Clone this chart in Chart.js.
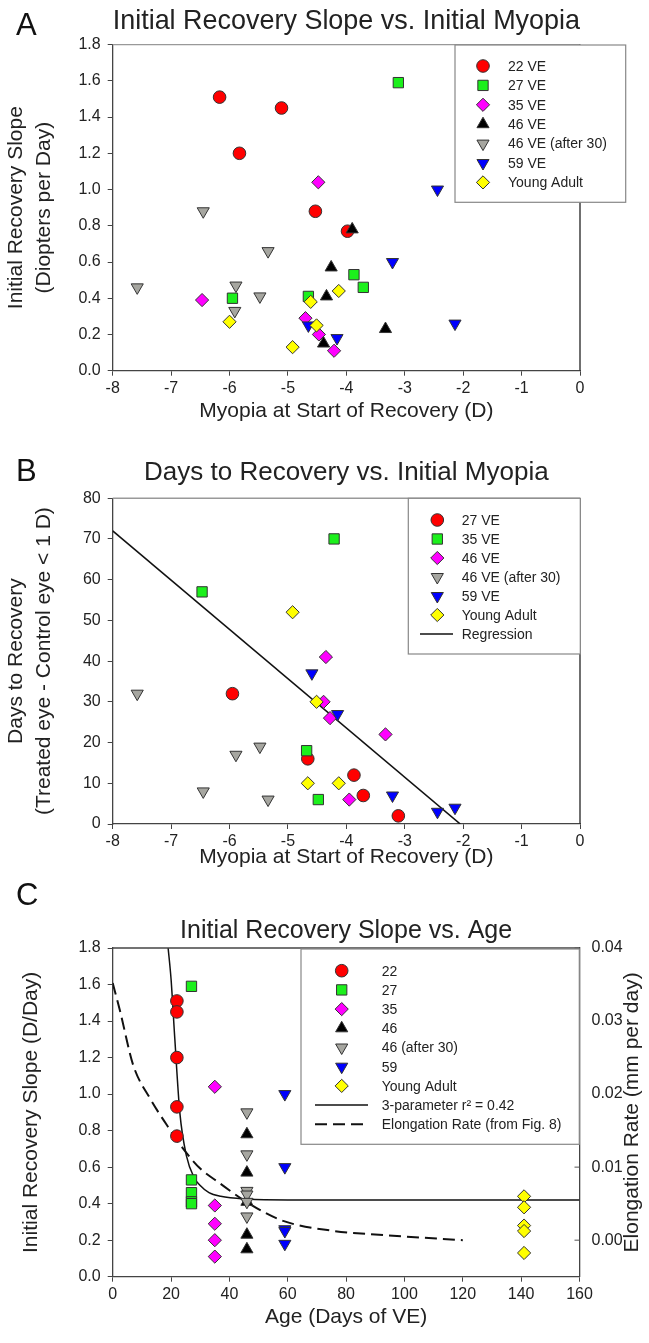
<!DOCTYPE html>
<html>
<head>
<meta charset="utf-8">
<script src="https://cdn.jsdelivr.net/npm/chart.js"></script>
<style>
  body { margin: 0; background: #fff; width: 649px; height: 1343px; position: relative; overflow: hidden; font-family: "Liberation Sans", Arial, sans-serif; }
  canvas { position: absolute; left: 0; }
  .tag { position: absolute; left: 16px; font-size: 31px; color: #111; line-height: 1; }
</style>
</head>
<body>
<canvas id="chartA" width="649" height="440" style="top:0"></canvas>
<canvas id="chartB" width="649" height="440" style="top:440px"></canvas>
<canvas id="chartC" width="649" height="463" style="top:880px"></canvas>
<div class="tag" style="top:9px">A</div>
<div class="tag" style="top:455px">B</div>
<div class="tag" style="top:879px">C</div>
<script>
// ---- Panel A: initial recovery slope (D/day) vs myopia at start of recovery (D)
const groupsA = ['22 VE', '27 VE', '35 VE', '46 VE', '46 VE (after 30)', '59 VE', 'Young Adult'];
const myopiaA22 = [-6.17, -5.11, -5.83, -4.53, -3.98];
const slopeA22 = [1.51, 1.45, 1.20, 0.88, 0.77];
const myopiaA27 = [-3.11, -5.95, -4.65, -3.87, -3.71];
const slopeA27 = [1.59, 0.40, 0.41, 0.53, 0.46];
const myopiaA35 = [-4.48, -6.47, -4.70, -4.47, -4.21];
const slopeA35 = [1.04, 0.39, 0.29, 0.20, 0.11];
const myopiaA46 = [-3.90, -4.26, -4.34, -3.33, -4.39];
const slopeA46 = [0.78, 0.57, 0.41, 0.23, 0.15];
const myopiaA46b = [-7.58, -6.45, -5.34, -5.89, -5.48, -5.91];
const slopeA46b = [0.46, 0.88, 0.66, 0.47, 0.41, 0.33];
const myopiaA59 = [-2.44, -3.21, -4.16, -2.14, -4.65];
const slopeA59 = [1.00, 0.60, 0.18, 0.26, 0.25];
const myopiaAYA = [-4.13, -4.61, -6.00, -4.51, -4.92];
const slopeAYA = [0.44, 0.38, 0.27, 0.25, 0.13];

// ---- Panel B: days to recovery vs myopia at start of recovery (D)
const groupsB = ['27 VE', '35 VE', '46 VE', '46 VE (after 30)', '59 VE', 'Young Adult'];
const myopiaB27 = [-5.95, -4.66, -3.87, -3.71, -3.11];
const daysB27 = [32, 16, 12, 7, 2];
const myopiaB35 = [-4.21, -6.47, -4.68, -4.48];
const daysB35 = [70, 57, 18, 6];
const myopiaB46 = [-4.35, -4.39, -4.28, -3.33, -3.95];
const daysB46 = [41, 30, 26, 22, 6];
const myopiaB46b = [-7.58, -5.89, -5.48, -6.45, -5.34];
const daysB46b = [32, 17, 19, 8, 6];
const myopiaB59 = [-4.59, -4.15, -3.21, -2.44, -2.14];
const daysB59 = [37, 27, 7, 3, 4];
const myopiaBYA = [-4.92, -4.51, -4.66, -4.13];
const daysBYA = [52, 30, 10, 10];
const regMyopiaB = [-8, -2.05];
const regDaysB = [72, 0];

// ---- Panel C: initial recovery slope vs age (days of VE)
const groupsC = ['22', '27', '35', '46', '46 (after 30)', '59', 'Young Adult'];
const ageC = [22, 27, 35, 46, 46, 59, 141];
const slopeC22 = [1.51, 1.45, 1.20, 0.93, 0.77];
const slopeC27 = [1.59, 0.53, 0.46, 0.41, 0.40];
const slopeC35 = [1.04, 0.39, 0.29, 0.20, 0.11];
const slopeC46 = [0.78, 0.57, 0.41, 0.23, 0.15];
const slopeC46b = [0.90, 0.67, 0.47, 0.45, 0.41, 0.33];
const slopeC59 = [1.00, 0.60, 0.26, 0.25, 0.18];
const slopeCYA = [0.44, 0.38, 0.28, 0.25, 0.13];
const fitAgeC = [19, 20, 21.3, 23, 25.3, 28, 30, 33, 37, 46, 60, 160];
const fitSlopeC = [1.80, 1.63, 1.30, 0.90, 0.66, 0.54, 0.50, 0.46, 0.44, 0.425, 0.42, 0.42];
const elongAgeC = [0, 2.5, 7, 12.8, 18.5, 24, 30, 36, 46, 58, 75, 93, 120];
const elongRateC = [0.0352, 0.0314, 0.0240, 0.0194, 0.0158, 0.0126, 0.0098, 0.0080, 0.0052, 0.0027, 0.0013, 0.0007, 0.0000];

const FONT = '"Liberation Sans", Arial, sans-serif';
const INK = '#222';
const AXIS = '#444';

// marker look for each group, in the order of panel A / C
const markers = [
  { pointStyle: 'circle', pointRadius: 6.3, rotation: 0, backgroundColor: '#ff0000' },
  { pointStyle: 'rect', pointRadius: 7.3, rotation: 0, backgroundColor: '#1cf01c' },
  { pointStyle: 'rectRot', pointRadius: 6.6, rotation: 0, backgroundColor: '#ff00ff' },
  { pointStyle: 'triangle', pointRadius: 7, rotation: 0, backgroundColor: '#000000' },
  { pointStyle: 'triangle', pointRadius: 7, rotation: 180, backgroundColor: '#a6a6a0' },
  { pointStyle: 'triangle', pointRadius: 7, rotation: 180, backgroundColor: '#0000ff' },
  { pointStyle: 'rectRot', pointRadius: 6.6, rotation: 0, backgroundColor: '#ffff00' },
];

function pts(xs, ys) {
  return ys.map((y, i) => ({ x: Array.isArray(xs) ? xs[i] : xs, y: y }));
}

function scatterSet(label, data, m, order) {
  return {
    label: label,
    data: data,
    pointStyle: m.pointStyle,
    pointRadius: m.pointRadius,
    rotation: m.rotation,
    backgroundColor: m.backgroundColor,
    borderColor: '#333',
    borderWidth: 1,
    order: order,
  };
}

// plot frame: top line and right line (+ inward ticks and title of a right axis)
const framePlugin = {
  id: 'frame',
  afterDatasetsDraw(chart, args, opts) {
    const { ctx, chartArea: a } = chart;
    ctx.save();
    ctx.lineWidth = 1.4;
    ctx.strokeStyle = opts.topColor || '#999';
    ctx.beginPath(); ctx.moveTo(a.left, a.top); ctx.lineTo(a.right, a.top); ctx.stroke();
    if (opts.right) {
      ctx.strokeStyle = '#333';
      ctx.beginPath(); ctx.moveTo(a.right, a.top); ctx.lineTo(a.right, a.bottom); ctx.stroke();
    }
    if (opts.innerTicks && chart.scales[opts.innerTicks]) {
      const s = chart.scales[opts.innerTicks];
      ctx.strokeStyle = '#555';
      ctx.lineWidth = 1;
      s.ticks.forEach(t => {
        const y = s.getPixelForValue(t.value);
        ctx.beginPath(); ctx.moveTo(a.right - 5, y); ctx.lineTo(a.right, y); ctx.stroke();
      });
    }
    if (opts.rightTitle) {
      // reads bottom-to-top like the left title
      ctx.translate(opts.rightTitleX, (a.top + a.bottom) / 2);
      ctx.rotate(-Math.PI / 2);
      ctx.font = '21px ' + FONT;
      ctx.fillStyle = INK;
      ctx.textAlign = 'center';
      ctx.textBaseline = 'middle';
      ctx.fillText(opts.rightTitle, 0, 0);
    }
    ctx.restore();
  }
};

// boxed legend drawn inside the plot
const boxLegend = {
  id: 'boxLegend',
  afterDraw(chart, args, o) {
    const ctx = chart.ctx;
    ctx.save();
    ctx.fillStyle = '#fff';
    ctx.fillRect(o.left, o.top, o.right - o.left, o.bottom - o.top);
    ctx.strokeStyle = '#888';
    ctx.lineWidth = 1.2;
    ctx.strokeRect(o.left, o.top, o.right - o.left, o.bottom - o.top);
    ctx.font = '14px ' + FONT;
    ctx.textBaseline = 'middle';
    chart.data.datasets.forEach((ds, i) => {
      const y = o.firstRow + i * o.rowGap;
      if (ds.showLine) {
        ctx.strokeStyle = ds.borderColor;
        ctx.lineWidth = ds.borderWidth;
        ctx.setLineDash(ds.borderDash || []);
        ctx.beginPath(); ctx.moveTo(o.lineFrom, y); ctx.lineTo(o.lineTo, y); ctx.stroke();
        ctx.setLineDash([]);
      } else {
        ctx.fillStyle = ds.backgroundColor;
        ctx.strokeStyle = ds.borderColor;
        ctx.lineWidth = ds.borderWidth;
        Chart.helpers.drawPoint(ctx, {
          pointStyle: ds.pointStyle, radius: ds.pointRadius, rotation: ds.rotation, borderWidth: ds.borderWidth
        }, o.symbolX, y);
      }
      ctx.fillStyle = INK;
      ctx.fillText(ds.label, o.textX, y + 1);
    });
    ctx.restore();
  }
};

function axis(opts) {
  const s = {
    type: 'linear',
    position: opts.position,
    min: opts.min,
    max: opts.max,
    ticks: {
      stepSize: opts.step,
      color: INK,
      font: { family: FONT, size: 16 },
      padding: opts.tickPad,
      includeBounds: false,
    },
    grid: { drawOnChartArea: false, drawTicks: opts.drawTicks !== false, tickLength: 5, color: AXIS },
    border: { color: AXIS, width: 1.3 },
    title: {
      display: !!opts.title,
      text: opts.title || '',
      color: INK,
      font: { family: FONT, size: 21, lineHeight: 1.3 },
      padding: opts.titlePad,
    },
    afterFit: opts.fit,
  };
  if (opts.fmt) s.ticks.callback = opts.fmt;
  return s;
}

function baseOptions(title, titleSize, titlePad, pad, scales, plugins) {
  return {
    responsive: false,
    animation: false,
    events: [],
    layout: { padding: pad },
    scales: scales,
    plugins: Object.assign({
      legend: { display: false },
      tooltip: { enabled: false },
      title: {
        display: true,
        text: title,
        fullSize: false,
        color: INK,
        font: { family: FONT, size: titleSize, weight: 'normal', lineHeight: 1.2 },
        padding: titlePad,
      },
    }, plugins),
  };
}

// ---------- Panel A
const setsA = [
  [myopiaA22, slopeA22], [myopiaA27, slopeA27], [myopiaA35, slopeA35], [myopiaA46, slopeA46],
  [myopiaA46b, slopeA46b], [myopiaA59, slopeA59], [myopiaAYA, slopeAYA]
].map((p, i) => scatterSet(groupsA[i], pts(p[0], p[1]), markers[i], 10 - i));

new Chart(document.getElementById('chartA'), {
  type: 'scatter',
  data: { datasets: setsA },
  options: baseOptions('Initial Recovery Slope vs. Initial Myopia', 28, { top: 4, bottom: 7 },
    { left: 0, right: 69, top: 0, bottom: 0 },
    {
      x: axis({ position: 'bottom', min: -8, max: 0, step: 1, tickPad: 3,
        title: 'Myopia at Start of Recovery (D)', titlePad: { top: 0, bottom: 15 },
        fit: s => { s.height = 69.3; } }),
      y: axis({ position: 'left', min: 0, max: 1.8, step: 0.2, tickPad: 7,
        title: ['Initial Recovery Slope', '(Diopters per Day)'], titlePad: { top: 3, bottom: 0 },
        fmt: v => v.toFixed(1), fit: s => { s.width = 112.7; } }),
    },
    {
      frame: { topColor: '#999', right: true },
      boxLegend: { left: 455, top: 45, right: 625.7, bottom: 202.3, firstRow: 66, rowGap: 19.4, symbolX: 483, textX: 508 },
    }),
  plugins: [framePlugin, boxLegend],
});

// ---------- Panel B
const markerIdxB = [0, 1, 2, 4, 5, 6];
const setsB = [
  [myopiaB27, daysB27], [myopiaB35, daysB35], [myopiaB46, daysB46],
  [myopiaB46b, daysB46b], [myopiaB59, daysB59], [myopiaBYA, daysBYA]
].map((p, i) => scatterSet(groupsB[i], pts(p[0], p[1]), markers[markerIdxB[i]], 10 - i));
setsB.push({
  label: 'Regression',
  data: pts(regMyopiaB, regDaysB),
  showLine: true,
  pointRadius: 0,
  borderColor: '#111',
  borderWidth: 1.6,
  order: 20,
});

new Chart(document.getElementById('chartB'), {
  type: 'scatter',
  data: { datasets: setsB },
  options: baseOptions('Days to Recovery vs. Initial Myopia', 26, { top: 17, bottom: 10 },
    { left: 0, right: 69, top: 0, bottom: 0 },
    {
      x: axis({ position: 'bottom', min: -8, max: 0, step: 1, tickPad: 3,
        title: 'Myopia at Start of Recovery (D)', titlePad: { top: 0, bottom: 9 },
        fit: s => { s.height = 56; } }),
      y: axis({ position: 'left', min: 0, max: 80, step: 10, tickPad: 7,
        title: ['Days to Recovery', '(Treated eye - Control eye < 1 D)'], titlePad: { top: 3, bottom: 0 },
        fit: s => { s.width = 112.7; } }),
    },
    {
      frame: { topColor: '#999', right: true },
      boxLegend: { left: 408.3, top: 58.3, right: 580.3, bottom: 214, firstRow: 80, rowGap: 19, symbolX: 437.3, textX: 461.7, lineFrom: 420, lineTo: 453 },
    }),
  plugins: [framePlugin, boxLegend],
});

// ---------- Panel C
const setsC = [slopeC22, slopeC27, slopeC35, slopeC46, slopeC46b, slopeC59, slopeCYA]
  .map((ys, i) => scatterSet(groupsC[i], pts(ageC[i], ys), markers[i], 10 - i));
setsC.push({
  label: '3-parameter r\u00b2 = 0.42',
  data: pts(fitAgeC, fitSlopeC),
  showLine: true,
  pointRadius: 0,
  borderColor: '#111',
  borderWidth: 1.5,
  cubicInterpolationMode: 'monotone',
  yAxisID: 'y',
  order: 20,
});
setsC.push({
  label: 'Elongation Rate (from Fig. 8)',
  data: pts(elongAgeC, elongRateC),
  showLine: true,
  pointRadius: 0,
  borderColor: '#111',
  borderWidth: 2,
  borderDash: [12, 6],
  cubicInterpolationMode: 'monotone',
  yAxisID: 'y1',
  order: 21,
});

new Chart(document.getElementById('chartC'), {
  type: 'scatter',
  data: { datasets: setsC },
  options: baseOptions('Initial Recovery Slope vs. Age', 25, { top: 36, bottom: 2 },
    { left: 0, right: 0, top: 0, bottom: 0 },
    {
      x: axis({ position: 'bottom', min: 0, max: 160, step: 20, tickPad: 3,
        title: 'Age (Days of VE)', titlePad: { top: 0, bottom: 12 },
        fit: s => { s.height = 66.3; } }),
      y: axis({ position: 'left', min: 0, max: 1.8, step: 0.2, tickPad: 7,
        title: 'Initial Recovery Slope (D/Day)', titlePad: { top: 18, bottom: 0 },
        fmt: v => v.toFixed(1), fit: s => { s.width = 112.7; } }),
      y1: axis({ position: 'right', min: -0.005, max: 0.04, step: 0.01, tickPad: 12, drawTicks: false,
        title: null, titlePad: 0,
        fmt: v => v.toFixed(2), fit: s => { s.width = 69.5; } }),
    },
    {
      frame: { topColor: '#444', right: false, innerTicks: 'y1', rightTitle: 'Elongation Rate (mm per day)', rightTitleX: 632 },
      boxLegend: { left: 301, top: 69, right: 579.3, bottom: 264.3, firstRow: 90.7, rowGap: 19.2, symbolX: 341.7, textX: 381.7, lineFrom: 315, lineTo: 368 },
    }),
  plugins: [framePlugin, boxLegend],
});
</script>
</body>
</html>
